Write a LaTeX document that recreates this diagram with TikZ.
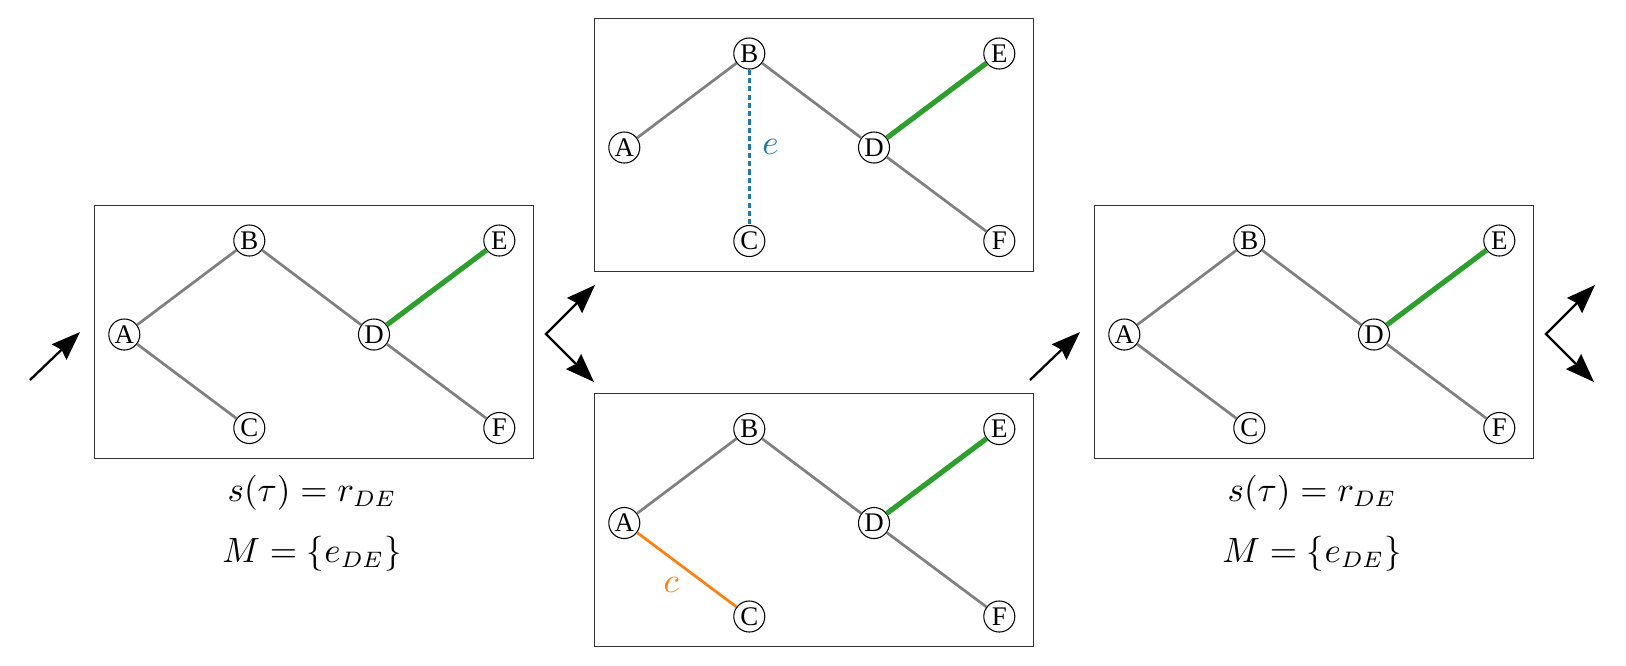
\documentclass[tikz,border=0pt]{standalone}
\usepackage{fontspec}
\newfontfamily\nodefont{Liberation Serif}
\usetikzlibrary{arrows.meta}
\definecolor{tabgreen}{HTML}{2CA02C}
\definecolor{tabblue}{HTML}{1F77B4}
\definecolor{taborange}{HTML}{FF7F0E}
\definecolor{edgegray}{HTML}{808080}
\tikzset{
  vert/.style={circle, draw, line width=0.33pt, minimum size=9.7pt, inner sep=0pt,
    fill=white, font=\nodefont\fontsize{8.4}{9}\selectfont},
  panel/.style={draw=black!80, line width=0.28pt},
  tedge/.style={edgegray, line width=0.85pt},
  medge/.style={tabgreen, line width=1.6pt},
  dedge/.style={tabblue, line width=0.95pt, dash pattern=on 1.6pt off 1pt},
  cedge/.style={taborange, line width=0.85pt},
  flow/.style={line width=0.72pt, -{Stealth[length=9pt, width=6.6pt, inset=1pt]}},
  flowtwo/.style={line width=0.72pt, {Stealth[length=9pt, width=6.6pt, inset=1pt]}-{Stealth[length=9pt, width=6.6pt, inset=1pt]}},
  formula/.style={anchor=base, inner sep=0pt, font=\fontsize{10.5}{13}\selectfont},
  elabel/.style={inner sep=0pt, font=\fontsize{10.9}{13}\selectfont},
}
\newcommand\treepanel[1]{%
  \draw[panel] (0,0) rectangle (439,253);
  \node[vert] (#1A) at (30.3,129.5) {A};
  \node[vert] (#1B) at (155.3,35.5) {B};
  \node[vert] (#1C) at (155.3,223) {C};
  \node[vert] (#1D) at (280,129.5) {D};
  \node[vert] (#1E) at (405.3,35.5) {E};
  \node[vert] (#1F) at (405.3,223) {F};
}
\begin{document}
\begin{tikzpicture}[x=0.3125pt, y=-0.3125pt]
\useasboundingbox (0,0) rectangle (1626,665);

% panel 1
\begin{scope}[shift={(94,205)}]
  \treepanel{p}
\end{scope}
\draw[tedge] (pA) -- (pB);
\draw[tedge] (pA) -- (pC);
\draw[tedge] (pB) -- (pD);
\draw[tedge] (pD) -- (pF);
\draw[medge] (pD) -- (pE);
\node[formula] (f1) at (312,501) {$s(\tau)=r_{DE}$};
\node[formula] (m1) at (312,562) {$M=\{e_{DE}\}$};

% panel 2 (top)
\begin{scope}[shift={(594,18)}]
  \treepanel{q}
\end{scope}
\draw[tedge] (qA) -- (qB);
\draw[tedge] (qB) -- (qD);
\draw[tedge] (qD) -- (qF);
\draw[medge] (qD) -- (qE);
\draw[dedge] (qB) -- node[elabel, midway, anchor=west, xshift=3.6pt, text=tabblue] (le) {$e$} (qC);

% panel 3 (bottom)
\begin{scope}[shift={(594,393.5)}]
  \treepanel{r}
\end{scope}
\draw[tedge] (rA) -- (rB);
\draw[tedge] (rB) -- (rD);
\draw[tedge] (rD) -- (rF);
\draw[medge] (rD) -- (rE);
\draw[cedge] (rA) -- node[elabel, midway, xshift=-4.9pt, yshift=-4.8pt, text=taborange] (lc) {$c$} (rC);

% panel 4
\begin{scope}[shift={(1094,205)}]
  \treepanel{t}
\end{scope}
\draw[tedge] (tA) -- (tB);
\draw[tedge] (tA) -- (tC);
\draw[tedge] (tB) -- (tD);
\draw[tedge] (tD) -- (tF);
\draw[medge] (tD) -- (tE);
\node[formula] (f2) at (1312,501) {$s(\tau)=r_{DE}$};
\node[formula] (m2) at (1312,562) {$M=\{e_{DE}\}$};

% flow arrows
\coordinate (a1s) at (30,380);
\coordinate (a1e) at (80,332);
\draw[flow] (a1s) -- (a1e);
\coordinate (s1v) at (546,334);
\coordinate (s1u) at (595,285);
\coordinate (s1d) at (594,382);
\draw[flowtwo] (s1u) -- (s1v) -- (s1d);

\coordinate (a2s) at (1030,380);
\coordinate (a2e) at (1080,332);
\draw[flow] (a2s) -- (a2e);
\coordinate (s2v) at (1546,334);
\coordinate (s2u) at (1595,285);
\coordinate (s2d) at (1594,382);
\draw[flowtwo] (s2u) -- (s2v) -- (s2d);
\end{tikzpicture}
\end{document}
